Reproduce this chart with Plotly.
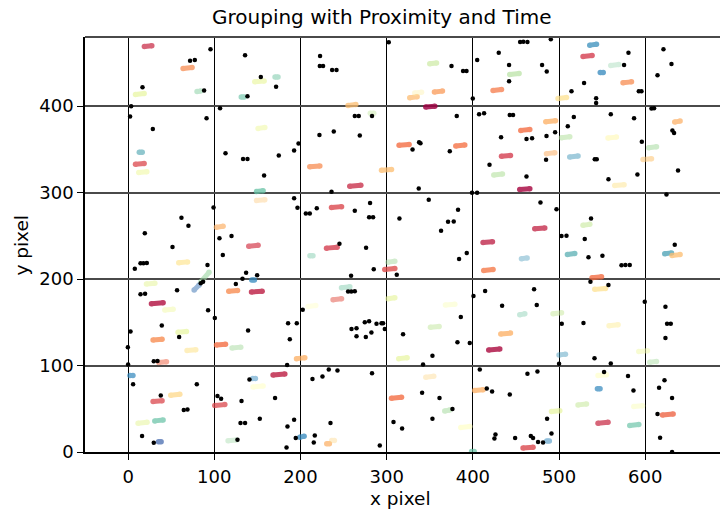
import plotly.graph_objects as go
from plotly.colors import sample_colorscale, diverging

# ---------------- data ----------------
# isolated (ungrouped) detections: x, y
bx = [95.6, 71.9, 77.4, 16.7, 88.2, 3.5, 2.3, 91, 28.7,
      135.7, 154, 171.7, 138.5, 106.7, 197.7, 113, 133.4, 138.5, 174.8, 192.6, 157.8,
      302.4, 222.7, 222.4, 226.2, 236.7, 241.8, 375.2, 388.6, 392.6, 405, 430, 442, 442, 399.9,
      263, 267.6, 283, 222, 238.6, 268.8, 337.6, 339.2, 330, 373.2, 381.3, 407.2, 413, 442.8,
      446.6, 432.7, 419.3,
      454.8, 458.5, 463.3, 490.4, 480.3, 485.7, 580.5, 575.4, 529, 514.4, 592.5, 595.6, 543, 543,
      621.1, 630.4, 614.2, 607.2, 610.2, 462.2, 468.7, 485.4, 495.4, 484.9, 462.2, 517.1, 510.1,
      560, 587, 596, 541.4, 543.7, 590.9, 631.5, 633.4, 638,
      192.6, 196.5, 99.1, 61.9, 70, 19.4, 106, 120, 51.5, 109.9, 14.4, 17.8, 21.7, 7.8, 92.1,
      84.3, 87, 136.9, 149.7, 132.7, 125, 14.4, 19.7, 56.8, 92.8, 202.6,
      236, 337.2, 399, 404.9, 348.8, 218.9, 206.2, 210.8, 263, 280.7, 279.6, 284.2, 314.8, 382.8,
      371.2, 377.8, 363.1, 245.2, 276.1, 392.9, 384, 285, 258.7, 311.7, 255.2, 259, 263, 400.7,
      414.2, 433.9,
      557.3, 624.6, 478.4, 497, 537.1, 502.8, 508.6, 529.8, 534.1, 550.3, 572.4, 577, 582, 634.2,
      536.4, 557.3, 471, 474.1, 599.4, 623.4,
      2.8, 39.1, -0.3, 0, 59.2, 29.8, 34.1, 139.2, 100.6, 185.6, 195.7, 187.6, 184.5, 5.8, 79.7,
      37.9, 64.6, 68.9, 16.2, 29.8, 140.8, 103.7, 107.9, 131.6, 170.5, 152.8, 130.4, 135.7, 192.6,
      184.9, 194.5, 183.8, 126.9,
      259.2, 265, 274.6, 279.6, 288.2, 294, 295.8, 297.8, 265, 275.8, 282.3, 319, 386, 382.1,
      396.4, 353.1, 342.2, 213.9, 225.5, 232.8, 242.9, 283, 234.8, 216.6, 215.4, 292, 341.1, 361.3,
      376.3, 307.9, 317.9, 353.1, 408, 416.1, 422.3, 442.8, 426.2, 425, 449,
      503.1, 528.3, 623.4, 625.3, 629.6, 541.1, 500, 560, 463.3, 474.9, 552.2, 580, 586.3, 622.3,
      616, 631.1, 486.1, 491.2, 467.2, 469.8, 475.6, 481.4, 614.2, 617.2, 631.1]
by = [465.7, 452.6, 453.3, 421.8, 418, 400, 388, 386, 373.7,
      458.8, 433.7, 422.6, 411.4, 397.6, 356.8, 345.6, 339, 339, 343, 348.7, 319.9,
      473.8, 458, 446.4, 446.4, 441.8, 441.8, 446.4, 440.6, 440.6, 453.3, 461.9, 447.6, 428.7, 408.8,
      388.7, 388.7, 388.7, 366.7, 370.7, 366, 358.3, 357.2, 349.9, 347.9, 388.7, 390.6, 391.8, 389.8,
      389.8, 364.1, 332.1,
      474.1, 474.5, 474.1, 477.3, 447.6, 440, 461.9, 447.6, 426.8, 417.2, 417.2, 417.2, 409.1, 403.7,
      465.7, 448.7, 435.7, 397.2, 397.6, 362.1, 362.9, 365.6, 369.9, 337.9, 318.7, 387.5, 376.8,
      390.6, 386, 358.7, 338.7, 338.7, 321, 371.8, 369, 325.6,
      293.6, 282.4, 282.9, 270.9, 261.7, 252.9, 247.1, 249.8, 237, 227.8, 218.2, 218.4, 218.6, 212, 216.3,
      195.2, 197, 207.4, 204.4, 200.5, 194.3, 182.4, 183.1, 187, 164, 164.5,
      300.9, 304.8, 299.8, 299.8, 291.7, 281.8, 276, 276, 279, 287.9, 271.4, 271.6, 270.2, 280.1,
      266.3, 266.5, 255.9, 240.9, 236.3, 230.1, 223.2, 211.3, 203.9, 205, 185.5, 185.5, 185.8, 180.5,
      186.3, 169.3,
      315.6, 297.9, 288.7, 280.9, 270.2, 249.8, 250, 246.3, 225.2, 227, 215.9, 216.2, 216.2, 239.7,
      197, 193.2, 188.2, 170.1, 173.9, 168.1,
      139.3, 146.2, 121.2, 101.2, 133.1, 105.1, 105.3, 140.4, 155.1, 149, 149, 130.5, 100.5, 78.5, 78.5,
      65.4, 48.5, 49.2, 18.5, 10.7, 83.8, 64.7, 61.5, 58.9, 62.4, 38.5, 33.5, 33.5, 37.3,
      29.6, 16.2, 5.3, 14.2,
      142.4, 143.2, 150.1, 151.3, 148.2, 149, 149, 142.4, 133.9, 133.1, 138.1, 136.3, 156.2, 127,
      126.2, 111.2, 101.2, 84.3, 87.3, 95.4, 94.2, 91.2, 33.5, 19.2, 11.1, 7.6, 68.5, 62.4,
      49.7, 34.6, 27.3, 38.5, 95.4, 73.4, 70, 66.5, 20.3, 15.7, 16.2,
      148.2, 149.3, 132, 148.2, 148.2, 108.5, 102, 102.3, 90.4, 93.1, 92.4, 87.8, 71.1, 83.1,
      74.2, 62.4, 38.5, 21.5, 18.5, 16.2, 11.5, 11.1, 43.9, 16.5, 0]

# grouped tracks (streaks): start/end position, time value (0..1), visibility
sx0 = [18.9, 63.8, 8.6, 80, 13, 8.6, 12.4, 147, 170.5, 131.3, 150.8,
       350, 442.8, 423.4, 326.8, 332.6, 355.4, 255.2, 345.4, 281, 210.8, 294, 314.4, 380.2, 433.2, 424.3,
       535.6, 527.8, 560, 547.8, 574.2, 498.8, 455.6, 484.6, 485.4, 502.8, 556.8, 512.4, 634.2, 604, 597.4,
       149, 149, 102.5, 140, 58.8, 84.5, 76.6, 143.5, 116.8, 143.2, 21.3, 27.1, 42.6,
       257.2, 236, 230.2, 211, 411.8, 412.6, 301.6, 297.8, 247.6, 237.8, 208.8, 301.6, 368.2,
       454.4, 564.6, 527.8, 471.8, 456.4, 509.7, 622.6, 631.1, 538.3, 541.4, 493, 454.4,
       29, 58, 68.4, 35.6, 102.6, 120.6, 195.4, 2.2, 49.5, 29, 31, 11.6, 35.3, 144.7, 168.2, 145, 100.6,
       199.2, 116,
       350.8, 314, 432.4, 418.4, 230.5, 236.3, 345.4, 305.6, 367.4, 386, 402.2, 398.5,
       558, 500, 592.5, 605.2, 545.2, 544.5, 522, 491.2, 586.7, 485.7, 458.2, 545.2, 582, 620]
sx1 = [27.5, 74.2, 18.6, 84, 16.4, 18.6, 21.7, 157.8, 173.9, 134.7, 158.6,
       357.8, 453.6, 433.2, 335.3, 340.4, 364.7, 264.2, 355.8, 285, 222.4, 305.6, 326, 390.6, 443.6, 434.3,
       543.4, 538.3, 569.3, 551.2, 584, 508.6, 466, 495.8, 495, 512.4, 566.5, 522, 640.4, 613, 607.2,
       156.6, 158.6, 110.2, 150.8, 68.9, 93.9, 82.4, 146.5, 126.9, 155.5, 31, 40.6, 52.2,
       270, 247.6, 242.5, 214.4, 422.7, 423.4, 309.4, 309.4, 257.2, 247.6, 217.7, 309.4, 379,
       466, 575.4, 535.6, 483.4, 462.9, 518.2, 630.4, 640.4, 549.2, 553.8, 502.8, 460.2,
       39.4, 67.7, 78.5, 44.5, 113, 130.7, 205, 5.6, 60, 39.4, 40.6, 22, 38.3, 147.7, 181.8, 156.6, 112.2,
       204.2, 125.8,
       360.8, 323.7, 443.6, 431.2, 233.5, 239.3, 354.6, 317.2, 373.2, 396.4, 411.8, 401.5,
       568.4, 507.4, 602.5, 613, 555, 547.5, 531.8, 500.8, 596.8, 488.7, 469.8, 556.8, 592.5, 632.3]
sy0 = [469, 443.5, 413.5, 417, 346.8, 332.8, 323.2, 428.2, 433.7, 410.6, 374.3,
       449, 436.7, 418.2, 409.8, 415.2, 416.4, 400.9, 399, 391.8, 329.8, 325.8, 354.7, 354, 342, 320.5,
       470.6, 457.5, 447.1, 438.8, 427.1, 409, 372, 382, 345.1, 363.6, 363.2, 341.3, 381.7, 352, 338.2,
       301.2, 290.8, 260, 238.1, 218.9, 197, 187.4, 199, 185.8, 185, 194.2, 171.5, 164.2,
       307.4, 282.8, 235.8, 227, 242.3, 210, 219.6, 211.2, 190, 176.2, 168.4, 177.3, 169.9,
       303.5, 308.2, 262.3, 258.2, 223.5, 228.5, 229.3, 227.3, 201.6, 188.1, 160, 158.8,
       129.5, 138.4, 117.3, 103.4, 123.7, 120.3, 108, 88.5, 65.7, 58.4, 36, 33.3, 11.9, 85, 89.1, 75.3, 53.8,
       17.2, 12.9,
       144.2, 108, 136.5, 118, 9.6, 13.4, 86.5, 62.2, 47.5, 28.4, 71.1, 0.5,
       146.1, 112.2, 116.1, 103.8, 88.4, 73.1, 54.5, 46.8, 52.6, 12.7, 4.5, 33.3, 30.7, 42.9]
sy1 = [470, 444.7, 414.7, 417.4, 346.8, 333.8, 324.2, 429.2, 433.7, 410.6, 375.3,
       450, 437.7, 419.2, 410.8, 416.2, 417.4, 401.9, 400, 391.8, 330.8, 326.8, 355.7, 355, 343, 321.5,
       471.6, 458.5, 448.1, 438.8, 428.1, 410, 373, 383, 346.1, 364.6, 364.2, 342.3, 382.7, 353, 339.2,
       302.2, 291.8, 261, 239.1, 219.9, 207.8, 193.2, 199, 186.8, 186, 195.2, 172.5, 165.2,
       308.4, 283.8, 236.8, 227, 243.3, 211, 220.6, 212.2, 191, 177.2, 169.4, 178.3, 170.9,
       304.5, 309.2, 263.3, 259.2, 224.5, 229.5, 230.3, 228.3, 202.6, 189.1, 161, 159.8,
       130.5, 139.4, 118.3, 104.4, 124.7, 121.3, 109, 88.5, 66.7, 59.4, 37, 34.3, 11.9, 85, 90.1, 76.3, 54.8,
       18.2, 13.9,
       145.2, 109, 137.5, 119, 9.6, 13.4, 87.5, 63.2, 48.5, 29.4, 72.1, 0.5,
       147.1, 113.2, 117.1, 104.8, 89.4, 73.1, 55.5, 47.8, 53.6, 12.7, 5.5, 34.3, 31.7, 43.9]
st = [0.08, 0.25, 0.6, 0.75, 0.85, 0.12, 0.55, 0.58, 0.78, 0.8, 0.55,
      0.65, 0.68, 0.22, 0.32, 0.45, 0.27, 0.33, 0.0, 0.66, 0.25, 0.33, 0.2, 0.21, 0.1, 0.68,
      0.89, 0.1, 0.75, 0.9, 0.25, 0.4, 0.2, 0.3, 0.3, 0.68, 0.48, 0.88, 0.3, 0.7, 0.35,
      0.8, 0.35, 0.3, 0.1, 0.42, 0.72, 0.93, 0.9, 0.25, 0.06, 0.6, 0.04, 0.55,
      0.08, 0.12, 0.1, 0.78, 0.06, 0.22, 0.7, 0.13, 0.78, 0.15, 0.5, 0.6, 0.52,
      0.02, 0.42, 0.65, 0.07, 0.88, 0.84, 0.86, 0.33, 0.2, 0.4, 0.65, 0.78,
      0.25, 0.6, 0.42, 0.18, 0.2, 0.7, 0.3, 0.9, 0.38, 0.12, 0.8, 0.6, 0.95, 0.9, 0.06, 0.5, 0.12,
      0.9, 0.72,
      0.66, 0.6, 0.3, 0.03, 0.3, 0.38, 0.38, 0.2, 0.7, 0.5, 0.3, 0.8,
      0.45, 0.88, 0.55, 0.7, 0.5, 0.9, 0.65, 0.6, 0.52, 0.9, 0.12, 0.08, 0.8, 0.18]
sa = [0.85, 0.85, 0.75, 0.6, 0.7, 0.85, 0.75, 0.75, 0.6, 0.7, 0.7,
      0.75, 0.8, 0.85, 0.8, 0.45, 0.85, 0.85, 0.95, 0.5, 0.85, 0.85, 0.9, 0.9, 0.9, 0.7,
      0.85, 0.9, 0.4, 0.85, 0.85, 0.8, 0.9, 0.85, 0.6, 0.65, 0.7, 0.55, 0.8, 0.65, 0.65,
      0.85, 0.45, 0.75, 0.8, 0.8, 0.7, 0.6, 0.85, 0.9, 0.95, 0.6, 0.95, 0.6,
      0.9, 0.9, 0.9, 0.5, 0.9, 0.9, 0.6, 0.9, 0.5, 0.6, 0.45, 0.7, 0.5,
      0.95, 0.6, 0.7, 0.9, 0.45, 0.8, 0.85, 0.85, 0.9, 0.8, 0.6, 0.45,
      0.9, 0.75, 0.7, 0.6, 0.9, 0.6, 0.85, 0.8, 0.8, 0.85, 0.8, 0.6, 0.85, 0.55, 0.95, 0.6, 0.85,
      0.85, 0.45,
      0.6, 0.75, 0.85, 0.95, 0.8, 0.45, 0.45, 0.9, 0.65, 0.7, 0.85, 0.8,
      0.65, 0.5, 0.6, 0.55, 0.65, 0.8, 0.65, 0.75, 0.55, 0.6, 0.9, 0.85, 0.75, 0.9]

x_ticks = [0, 100, 200, 300, 400, 500, 600]
y_ticks = [0, 100, 200, 300, 400]

# ---------------- figure ----------------
colors = sample_colorscale(diverging.Spectral, st)
fig = go.Figure()
for i in range(len(sx0)):
    fig.add_trace(go.Scatter(
        x=[sx0[i], sx1[i]], y=[sy0[i], sy1[i]], mode="lines+markers",
        line=dict(color=colors[i], width=5),
        marker=dict(color=colors[i], size=5.5),
        opacity=sa[i] * 0.88, showlegend=False, hoverinfo="skip"))

fig.add_trace(go.Scatter(x=bx, y=by, mode="markers",
                         marker=dict(color="black", size=4.5), showlegend=False))

fig.update_layout(
    width=720, height=511,
    margin=dict(l=85, r=0, t=37, b=59),
    paper_bgcolor="white", plot_bgcolor="white",
    font=dict(family="DejaVu Sans", color="black"),
    xaxis=dict(range=[-50, 686.7], tickvals=x_ticks, ticktext=[str(v) for v in x_ticks],
               showgrid=True, gridcolor="black", gridwidth=1.3, zeroline=False,
               showline=True, linecolor="black", linewidth=1.6,
               ticks="outside", ticklen=6, tickwidth=1.2, tickcolor="black",
               ticklabelstandoff=2,
               tickfont=dict(size=18, family="DejaVu Sans", color="black")),
    yaxis=dict(range=[0, 480], tickvals=y_ticks, ticktext=[str(v) for v in y_ticks],
               showgrid=True, gridcolor="#4a4a4a", gridwidth=2, zeroline=False,
               showline=True, linecolor="black", linewidth=1.6,
               ticks="outside", ticklen=6, tickwidth=1.2, tickcolor="black",
               tickfont=dict(size=18, family="DejaVu Sans", color="black")),
    shapes=[dict(type="line", xref="paper", yref="paper", x0=0, x1=1, y0=1, y1=1,
                 line=dict(color="#4a4a4a", width=2))],
    annotations=[
        dict(text="Grouping with Proximity and Time", xref="paper", yref="paper",
             x=0.4677, y=1.048, xanchor="center", yanchor="middle", showarrow=False,
             font=dict(size=20, family="DejaVu Sans", color="black")),
        dict(text="x pixel", xref="paper", yref="paper", x=0.4976, y=-0.113,
             xanchor="center", yanchor="middle", showarrow=False,
             font=dict(size=18.5, family="DejaVu Sans", color="black")),
        dict(text="y pixel", xref="paper", yref="paper", x=-0.0997, y=0.499,
             xanchor="center", yanchor="middle", showarrow=False, textangle=-90,
             font=dict(size=18.5, family="DejaVu Sans", color="black")),
    ],
)

fig.write_html("out.html")
